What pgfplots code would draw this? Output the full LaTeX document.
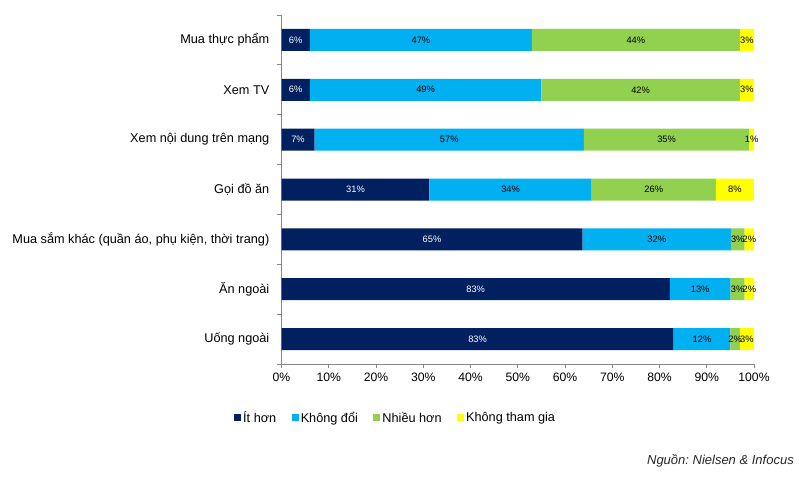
\documentclass[border=0pt]{standalone}
\usepackage{pgfplots}
\pgfplotsset{compat=1.18}
\usepackage{pgfplotstable}
\usepackage{fontspec}
\setmainfont{Liberation Sans}
\frenchspacing

\definecolor{ithon}{HTML}{002060}
\definecolor{khongdoi}{HTML}{00B0F0}
\definecolor{nhieuhon}{HTML}{92D050}
\definecolor{khongthamgia}{HTML}{FFFF00}
\definecolor{axisgray}{HTML}{868686}

% Share of respondents per activity (percent, as reported)
\pgfplotstableread{
pos a  b  c  d
0   6  47 44 3
1   6  49 42 3
2   7  57 35 1
3   31 34 26 8
4   65 32 3  2
5   83 13 3  2
6   83 12 2  3
}\survey

\newcommand{\tot}{(\thisrow{a}+\thisrow{b}+\thisrow{c}+\thisrow{d})}

\begin{document}
\begin{tikzpicture}
\useasboundingbox (0,0) rectangle (811bp,482bp);
\begin{axis}[
  at={(281.5bp,118bp)}, anchor=south west,
  width=472.5bp, height=349bp, scale only axis,
  xmin=0, xmax=100, ymin=-0.5, ymax=6.5, y dir=reverse,
  axis x line*=bottom, axis y line*=left,
  axis line style={draw=axisgray, line width=0.9bp},
  bar width=22bp,
  /pgf/number format/assume math mode=true,
  xtick={0,10,...,100},
  xticklabel={\pgfmathprintnumber{\tick}\%},
  ytick={0,...,6},
  yticklabels={Mua thực phẩm, Xem TV, Xem nội dung trên mạng, Gọi đồ ăn,
    {Mua sắm khác (quần áo, phụ kiện, thời trang)}, Ăn ngoài, Uống ngoài},
  minor ytick={-0.5,0.5,...,6.5},
  tick align=outside,
  major tick length=4bp, minor tick length=5bp,
  every major y tick/.style={draw=none},
  every major x tick/.style={draw=axisgray, line width=0.9bp},
  every minor y tick/.style={draw=axisgray, line width=0.9bp},
  xticklabel style={font=\fontsize{12.2bp}{14bp}\selectfont, inner sep=0pt, yshift=-5bp},
  yticklabel style={font=\fontsize{12.7bp}{15bp}\selectfont, inner sep=0pt, xshift=-8bp},
  legend columns=4,
  legend cell align=left,
  legend style={at={(-0.1005,-0.1547)}, anchor=west, draw=none, fill=none,
    inner sep=0pt, font=\fontsize{12.7bp}{15bp}\selectfont,
    nodes={inner xsep=2bp},
    /tikz/every even column/.append style={column sep=13.5bp}},
  segment/.style={xbar stacked, draw=none, fill=#1,
    legend image code/.code={\fill[#1] (0bp,-3.5bp) rectangle (7bp,3.5bp);}},
]
% stacked bars, each row scaled to its own total
\addplot[segment=ithon]
  table[x expr={100*\thisrow{a}/\tot}, y=pos] {\survey};
\addplot[segment=khongdoi]
  table[x expr={100*\thisrow{b}/\tot}, y=pos] {\survey};
\addplot[segment=nhieuhon]
  table[x expr={100*\thisrow{c}/\tot}, y=pos] {\survey};
\addplot[segment=khongthamgia]
  table[x expr={100*\thisrow{d}/\tot}, y=pos] {\survey};
\legend{Ít hơn, Không đổi, Nhiều hơn, Không tham gia}

% value labels centred in each segment
\pgfplotsset{segment label/.style={forget plot, draw=none, mark=none,
  nodes near coords={\pgfplotspointmeta\%},
  point meta=explicit symbolic,
  nodes near coords align=center,
  every node near coord/.append style={anchor=center, inner sep=0pt,
    font=\fontsize{9.3bp}{11bp}\selectfont, text=#1}}}
\addplot[segment label=white]
  table[x expr={100*(\thisrow{a}/2)/\tot}, y=pos, meta=a] {\survey};
\addplot[segment label=black]
  table[x expr={100*(\thisrow{a}+\thisrow{b}/2)/\tot}, y=pos, meta=b] {\survey};
\addplot[segment label=black]
  table[x expr={100*(\thisrow{a}+\thisrow{b}+\thisrow{c}/2)/\tot}, y=pos, meta=c] {\survey};
\addplot[segment label=black]
  table[x expr={100*(\thisrow{a}+\thisrow{b}+\thisrow{c}+\thisrow{d}/2)/\tot}, y=pos, meta=d] {\survey};
\end{axis}
\node[anchor=east, inner sep=0pt, text=black!85,
  font=\itshape\fontsize{13bp}{15bp}\selectfont] at (794bp,21bp)
  {Nguồn: Nielsen \& Infocus};
\end{tikzpicture}
\end{document}
